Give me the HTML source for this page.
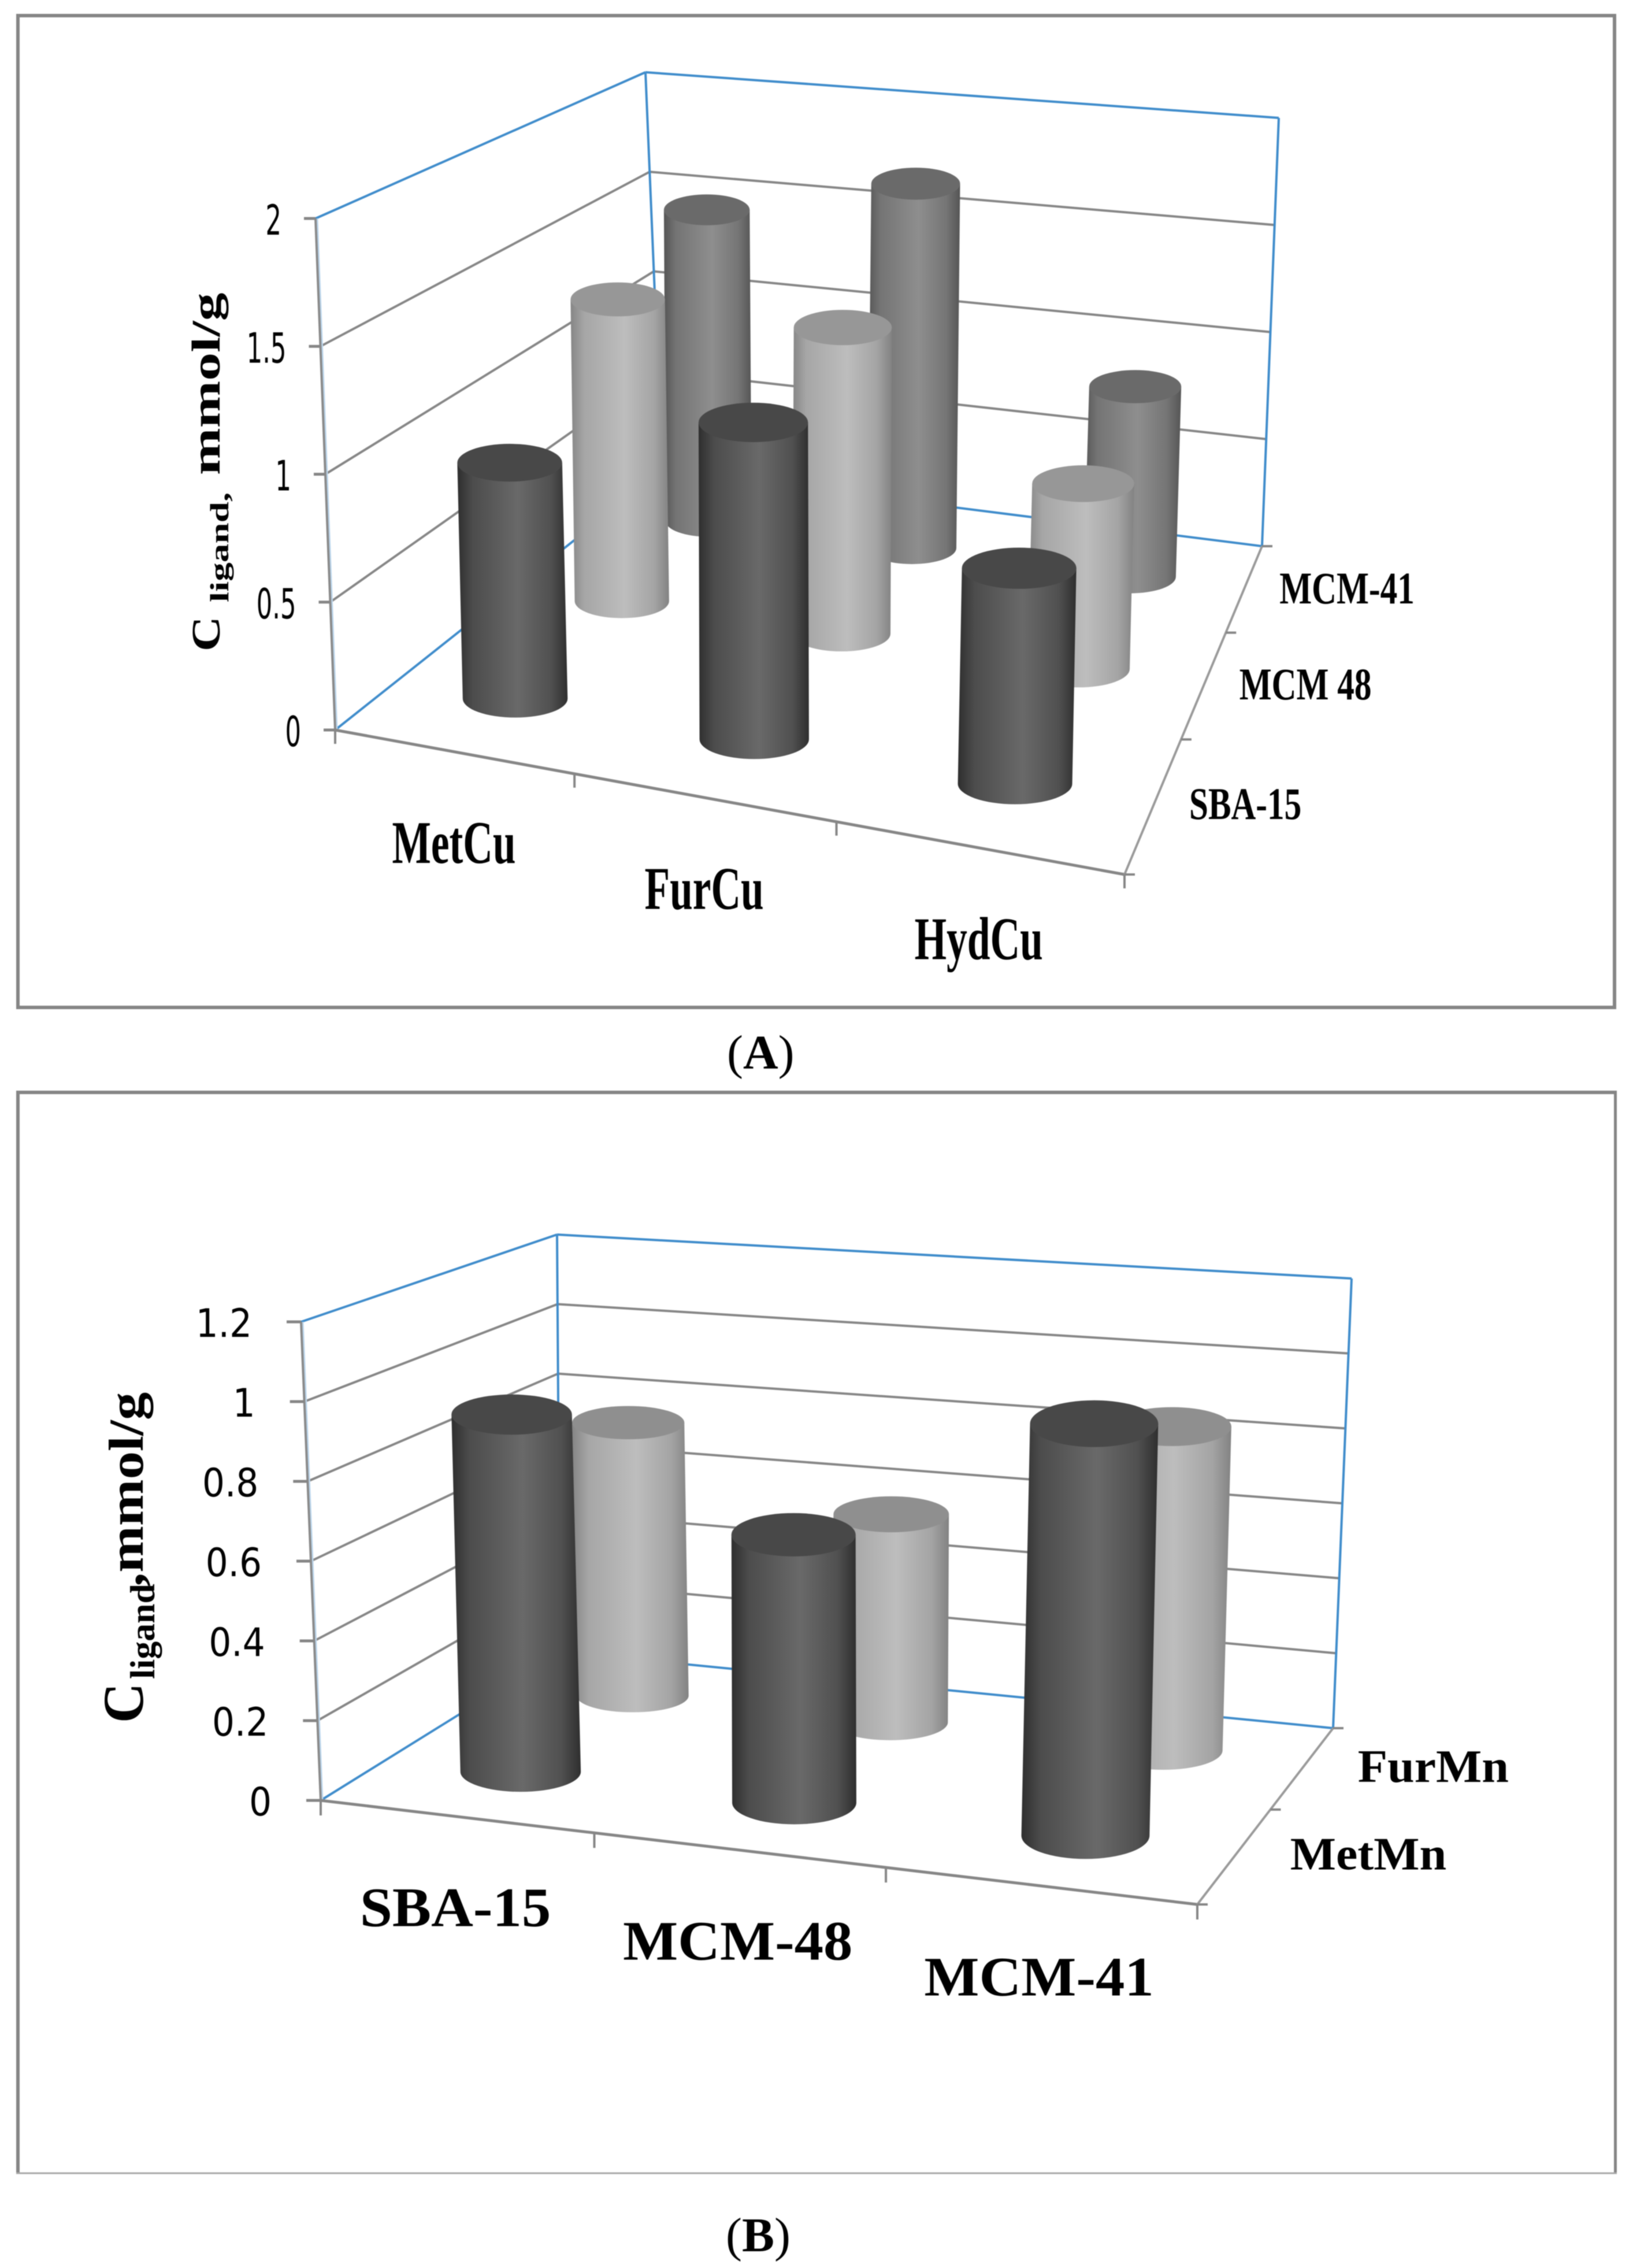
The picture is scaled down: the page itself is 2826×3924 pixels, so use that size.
<!DOCTYPE html>
<html>
<head>
<meta charset="utf-8">
<title>Ligand concentration 3D charts</title>
<style>
html,body{margin:0;padding:0;background:#fff;width:2826px;height:3924px;overflow:hidden}
svg{display:block;filter:blur(0.8px)}
text{fill:#000}
.serif{font-family:"Liberation Serif",serif}
.bold{font-weight:bold}
.tick{font-family:"DejaVu Sans","Liberation Sans",sans-serif}
</style>
</head>
<body>
<svg id="root" xmlns="http://www.w3.org/2000/svg" width="2826" height="3924" viewBox="0 0 2826 3924">
  <defs>
    <linearGradient id="grad-dark" x1="0" x2="1" y1="0" y2="0">
      <stop offset="0" stop-color="#2e2e2e"/><stop offset=".14" stop-color="#4c4c4c"/><stop offset=".55" stop-color="#696969"/><stop offset=".85" stop-color="#505050"/><stop offset="1" stop-color="#2e2e2e"/>
    </linearGradient>
    <linearGradient id="grad-light" x1="0" x2="1" y1="0" y2="0">
      <stop offset="0" stop-color="#858585"/><stop offset=".14" stop-color="#a6a6a6"/><stop offset=".55" stop-color="#bdbdbd"/><stop offset=".85" stop-color="#a4a4a4"/><stop offset="1" stop-color="#828282"/>
    </linearGradient>
    <linearGradient id="grad-mid" x1="0" x2="1" y1="0" y2="0">
      <stop offset="0" stop-color="#555"/><stop offset=".14" stop-color="#747474"/><stop offset=".55" stop-color="#8e8e8e"/><stop offset=".85" stop-color="#757575"/><stop offset="1" stop-color="#555"/>
    </linearGradient>
  </defs>
  <rect x="31" y="27" width="2763" height="1716" fill="#fff" stroke="#858585" stroke-width="6"/>
  <g stroke="#858585">
    <line x1="28" y1="1890" x2="2798" y2="1890" stroke-width="6"/>
    <line x1="31" y1="1888" x2="31" y2="3761" stroke-width="6"/>
    <line x1="2795.5" y1="1888" x2="2795.5" y2="3761" stroke-width="5"/>
    <line x1="28" y1="3760" x2="2798" y2="3760" stroke-width="3" stroke="#a8a8a8"/>
  </g>
  <g id="chart-a"></g>
  <g id="chart-b"></g>

  <text class="serif bold" font-size="70" transform="translate(380 1127) rotate(-90) scale(1.2 1)">C</text>
  <text class="serif bold" font-size="45" transform="translate(395 1042) rotate(-90) scale(1.45 1)">ligand,</text>
  <text class="serif bold" font-size="70" transform="translate(380 822) rotate(-90) scale(1.4 1)">mmol/g</text>

  <text class="serif bold" font-size="100" transform="translate(247 2981) rotate(-90) scale(.96 1)">C</text>
  <text class="serif bold" font-size="60" transform="translate(267 2905) rotate(-90) scale(1.03 1)">ligand</text>
  <text class="serif bold" font-size="85" transform="translate(247 2745) rotate(-90) scale(1.14 1)">,mmol/g</text>

  <text class="serif" font-size="84" x="1258" y="1849">(<tspan class="bold">A</tspan>)</text>
  <text class="serif" font-size="84" x="1256" y="3895">(<tspan class="bold">B</tspan>)</text>
</svg>

<script>
// ---------- Panel A data ----------
const categoriesA = ['MetCu', 'FurCu', 'HydCu'];
const seriesNamesA = ['SBA-15', 'MCM 48', 'MCM-41'];
const sba15ValuesA = [0.955, 1.25, 0.83];
const mcm48ValuesA = [1.334, 1.32, 0.78];
const mcm41ValuesA = [1.49, 1.70, 0.866];
const yTicksA = [0, 0.5, 1, 1.5, 2];
const yTickLabelsA = ['0', '0.5', '1', '1.5', '2'];

// ---------- Panel B data ----------
const categoriesB = ['SBA-15', 'MCM-48', 'MCM-41'];
const seriesNamesB = ['MetMn', 'FurMn'];
const metMnValuesB = [0.916, 0.67, 1.005];
const furMnValuesB = [0.75, 0.557, 0.846];
const yTicksB = [0, 0.2, 0.4, 0.6, 0.8, 1, 1.2];
const yTickLabelsB = ['0', '0.2', '0.4', '0.6', '0.8', '1', '1.2'];

const SVGNS = 'http://www.w3.org/2000/svg';

function homography(p00, p10, p11, p01) {
  const dx1 = p10[0] - p11[0], dx2 = p01[0] - p11[0], sx = p00[0] - p10[0] + p11[0] - p01[0];
  const dy1 = p10[1] - p11[1], dy2 = p01[1] - p11[1], sy = p00[1] - p10[1] + p11[1] - p01[1];
  const den = dx1 * dy2 - dx2 * dy1;
  const g = (sx * dy2 - dx2 * sy) / den;
  const h = (dx1 * sy - sx * dy1) / den;
  const a = p10[0] - p00[0] + g * p10[0], b = p01[0] - p00[0] + h * p01[0];
  const d = p10[1] - p00[1] + g * p10[1], e = p01[1] - p00[1] + h * p01[1];
  const fn = function (u, w) {
    const q = 1 + g * u + h * w;
    return [(a * u + b * w + p00[0]) / q, (d * u + e * w + p00[1]) / q];
  };
  fn.denom = function (u, w) { return 1 + g * u + h * w; };
  return fn;
}

function mk(parent, tag, attrs) {
  const el = document.createElementNS(SVGNS, tag);
  for (const k in attrs) el.setAttribute(k, attrs[k]);
  parent.appendChild(el);
  return el;
}

function drawChart(cfg) {
  const root = document.getElementById(cfg.id);
  const F = homography(cfg.floor[0], cfg.floor[1], cfg.floor[2], cfg.floor[3]);
  const C = homography(cfg.ceil[0], cfg.ceil[1], cfg.ceil[2], cfg.ceil[3]);
  const yMax = cfg.yTicks[cfg.yTicks.length - 1];
  const P = function (u, w, v) {
    const f = F(u, w), c = C(u, w), t = v / yMax;
    return [f[0] + (c[0] - f[0]) * t, f[1] + (c[1] - f[1]) * t];
  };
  // vanishing point of the vertical edges (left-front and back-right)
  const s1 = (cfg.floor[0][0] - cfg.ceil[0][0]) / (cfg.floor[0][1] - cfg.ceil[0][1]);
  const s2 = (cfg.floor[2][0] - cfg.ceil[2][0]) / (cfg.floor[2][1] - cfg.ceil[2][1]);
  const vpY = (cfg.floor[2][0] - s2 * cfg.floor[2][1] - cfg.floor[0][0] + s1 * cfg.floor[0][1]) / (s1 - s2);
  const vpX = cfg.floor[0][0] + s1 * (vpY - cfg.floor[0][1]);

  const GREY = '#868686', BLUE = '#3f8ccb';
  const seg = function (parent, a, b, color, width) {
    return mk(parent, 'line', { x1: a[0], y1: a[1], x2: b[0], y2: b[1], stroke: color, 'stroke-width': width });
  };

  // walls & gridlines
  const grid = mk(root, 'g', {});
  
  
  cfg.yTicks.forEach(function (v) {
    const color = (v === yMax || v === 0) ? BLUE : GREY;
    const left = seg(grid, P(0, 0, v), P(0, 1, v), color, 4);
    
    
    const back = seg(grid, P(0, 1, v), P(1, 1, v), color, 4);
    
    
  });
  seg(grid, P(0, 1, 0), P(0, 1, yMax), BLUE, 4);
  seg(grid, P(1, 1, 0), P(1, 1, yMax), BLUE, 4);

  // axes
  const axes = mk(root, 'g', {});
  
  
  seg(axes, [P(0, 0, 0)[0] + 3, P(0, 0, 0)[1]], [P(0, 0, yMax)[0] + 3, P(0, 0, yMax)[1]], '#bcd6ec', 3);
  seg(axes, P(0, 0, 0), P(0, 0, yMax), '#8a8a8a', 4);
  seg(axes, P(0, 0, 0), P(1, 0, 0), GREY, 5);
  seg(axes, P(1, 0, 0), P(1, 1, 0), '#9a9a9a', 4);

  cfg.yTicks.forEach(function (v, i) {
    const p = P(0, 0, v);
    const t = seg(axes, [p[0] - cfg.tickLen, p[1]], p, GREY, 5);
    
    
    const lbl = mk(root, 'text', {
      class: 'tick', 'font-size': cfg.tickFont, 'text-anchor': 'end', fill: '#111',
      transform: 'translate(' + (p[0] + cfg.tickDx) + ' ' + (p[1] + cfg.tickDy) + ') scale(' + cfg.tickScale + ' 1)'
    });
    lbl.textContent = cfg.yTickLabels[i];
    
    
  });

  const nC = cfg.categories.length, nS = cfg.seriesNames.length;
  for (let i = 0; i <= nC; i++) {
    const p = F(i / nC, 0);
    const t = seg(axes, p, [p[0], p[1] + cfg.xTickLen], GREY, 4);
    
    
  }
  for (let j = 0; j <= nS; j++) {
    const p = F(1, j / nS);
    const t = seg(axes, p, [p[0] + 18, p[1]], GREY, 4);
    
    
  }

  // bars: back row first
  for (let j = nS - 1; j >= 0; j--) {
    for (let i = 0; i < nC; i++) {
      const u = (i + 0.5) / nC, w = (j + 0.5) / nS, v = cfg.values[j][i];
      const q = F.denom(u, w);
      const rx = cfg.radius / q;
      const ry = rx * (cfg.ratio - cfg.ratioSlope * (q - 1));
      const b = F(u, w);
      const topY = P(u, w, v)[1];
      // top follows the vertical vanishing line through the base
      const t = [b[0] + (b[0] - vpX) * (b[1] - topY) / (vpY - b[1]), topY];
      // small layout correction for the chart's own bar placement on the floor
      const nudge = cfg.barDx + cfg.barSkew * (1 - u) * w;
      b[0] += nudge; t[0] += nudge;
      b[1] += cfg.shift; t[1] += cfg.shift;
      const g = mk(root, 'g', {});
      
      
      const look = cfg.looks[j];
      const d = 'M' + (t[0] - rx) + ' ' + t[1] + 'L' + (b[0] - rx) + ' ' + b[1] +
        'A' + rx + ' ' + ry + ' 0 0 0 ' + (b[0] + rx) + ' ' + b[1] +
        'L' + (t[0] + rx) + ' ' + t[1] + 'Z';
      const body = mk(g, 'path', { d: d, fill: 'url(#' + look.grad + ')' });
      
      
      const cap = mk(g, 'ellipse', { cx: t[0], cy: t[1], rx: rx, ry: ry, fill: look.cap });
      
      
    }
  }

  // category labels
  cfg.categories.forEach(function (name, i) {
    const p = F((i + 0.5) / nC, 0);
    const el = mk(root, 'text', {
      class: 'serif bold', 'font-size': cfg.catFont, 'text-anchor': 'middle',
      transform: 'translate(' + (p[0] + cfg.catDx) + ' ' + (p[1] + cfg.catDy) + ') scale(' + cfg.catScale + ' 1)'
    });
    el.textContent = name;
    
    
  });
  // depth (series) labels
  cfg.seriesNames.forEach(function (name, j) {
    const p = F(1, (j + 0.5) / nS);
    const el = mk(root, 'text', {
      class: 'serif bold', 'font-size': cfg.serFont,
      transform: 'translate(' + (p[0] + cfg.serDx) + ' ' + (p[1] + cfg.serDy) + ') scale(' + cfg.serScale + ' 1)'
    });
    el.textContent = name;
    
    
  });
}

drawChart({
  id: 'chart-a',
  floor: [[580, 1263], [1946, 1513], [2184, 945], [1146, 814]],
  ceil: [[546, 378], [1968, 561], [2213, 204], [1117, 125]],
  categories: categoriesA, seriesNames: seriesNamesA,
  values: [sba15ValuesA, mcm48ValuesA, mcm41ValuesA],
  yTicks: yTicksA, yTickLabels: yTickLabelsA,
  looks: [{ grad: 'grad-dark', cap: '#484848' }, { grad: 'grad-light', cap: '#979797' }, { grad: 'grad-mid', cap: '#6a6a6a' }],
  radius: 94, ratio: 0.36, ratioSlope: 0, shift: 8, barDx: 0, barSkew: -16,
  tickLen: 20, tickFont: 72, tickScale: 0.6, tickDx: -59, tickDy: 28,
  xTickLen: 24,
  catFont: 105, catScale: 0.68, catDx: 3, catDy: 193,
  serFont: 78, serScale: 0.76, serDx: 60, serDy: 28
});

drawChart({
  id: 'chart-b',
  floor: [[555, 3115], [2072, 3295], [2307, 2990], [969, 2858]],
  ceil: [[521, 2287], [2099, 2403], [2339, 2212], [964, 2136]],
  categories: categoriesB, seriesNames: seriesNamesB,
  values: [metMnValuesB, furMnValuesB],
  yTicks: yTicksB, yTickLabels: yTickLabelsB,
  looks: [{ grad: 'grad-dark', cap: '#484848' }, { grad: 'grad-light', cap: '#8f8f8f' }],
  radius: 106.5, ratio: 0.345, ratioSlope: 0.5, shift: -4, barDx: 5, barSkew: 0,
  tickLen: 25, tickFont: 68, tickScale: 0.9, tickDx: -85, tickDy: 26,
  xTickLen: 26,
  catFont: 96, catScale: 1.05, catDx: 0, catDy: 190,
  serFont: 80, serScale: 1.05, serDx: 95, serDy: 25
});
</script>
</body>
</html>
